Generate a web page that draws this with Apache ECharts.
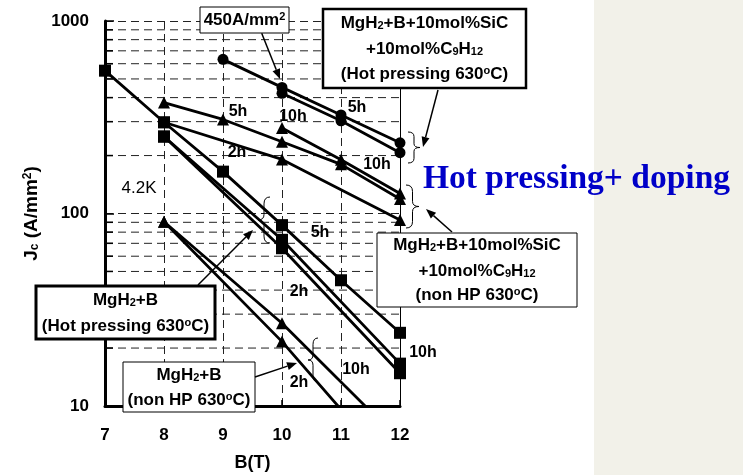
<!DOCTYPE html>
<html>
<head>
<meta charset="utf-8">
<script src="https://cdn.jsdelivr.net/npm/echarts@6/dist/echarts.min.js"></script>
<style>
  html, body { margin: 0; padding: 0; background: #fff; }
  #chart { width: 743px; height: 475px; }
</style>
</head>
<body>
<div id="chart"></div>
<script>
var chartDom = document.getElementById('chart');
var myChart = echarts.init(chartDom);

// B (T) ticks and minor Jc grid values
var bTicks = [7, 8, 9, 10, 11, 12];
var jcMinor = [20, 30, 40, 50, 60, 70, 80, 90, 200, 300, 400, 500, 600, 700, 800, 900];

// MgH2+B+10mol%SiC+10mol%C9H12, hot pressing 630C (circles)
var hpDoped5h = [[9, 632], [10, 452], [11, 325], [12, 233]];
var hpDoped10h = [[10, 421], [11, 303], [12, 207]];
// MgH2+B+10mol%SiC+10mol%C9H12, non HP 630C (triangles)
var doped5h = [[8, 377], [9, 308], [10, 236], [11, 180], [12, 119]];
var doped10h = [[10, 278], [11, 190], [12, 127]];
var doped2h = [[8, 298], [10, 191], [12, 92.5]];
// MgH2+B, hot pressing 630C (squares)
var hp5h = [[7, 552], [8, 298], [9, 165], [10, 87], [11, 45], [12, 24]];
var hp2h = [[8, 251], [10, 73], [12, 16.6]];
var hp10h = [[8, 251], [10, 66], [12, 14.8]];
// MgH2+B, non HP 630C (triangles)
var plain10h = [[8, 90.6], [10, 26.9], [12, 6.6]];
var plain2h = [[8, 90.6], [10, 21.6], [11, 9.6]];

var FONT = '"Liberation Sans", Arial, Helvetica, sans-serif';
var subStyles = {
  s: { fontSize: 12, fontWeight: 'bold', fontFamily: FONT, color: '#000', verticalAlign: 'bottom' },
  p: { fontSize: 12, fontWeight: 'bold', fontFamily: FONT, color: '#000', verticalAlign: 'top' },
  b: { fontSize: 19, fontWeight: 'bold', fontFamily: FONT, color: '#000' }
};

function mkSeries(data, symbol, size, z) {
  return {
    type: 'line',
    data: data,
    symbol: symbol,
    symbolSize: size,
    showSymbol: true,
    clip: true,
    z: z,
    color: '#000',
    lineStyle: { color: '#000', width: 2.8 },
    itemStyle: { color: '#000' },
    emphasis: { disabled: true },
    animation: false
  };
}

function box(x, y, w, h, lw) {
  return { type: 'rect', z: 100, shape: { x: x, y: y, width: w, height: h },
    style: { fill: '#fff', stroke: '#000', lineWidth: lw } };
}
function txt(x, y, text, size, weight) {
  return { type: 'text', z: 101, x: x, y: y,
    style: { text: text, fill: '#000',
      font: (weight || 'bold') + ' ' + size + 'px ' + FONT,
      align: 'center', verticalAlign: 'middle', textAlign: 'center', textVerticalAlign: 'middle',
      rich: {
        s: { fontSize: Math.round(size * 0.65), fontWeight: 'bold', fontFamily: FONT, fill: '#000', verticalAlign: 'bottom' },
        p: { fontSize: Math.round(size * 0.65), fontWeight: 'bold', fontFamily: FONT, fill: '#000', verticalAlign: 'top' }
      } } };
}
function arrow(x1, y1, x2, y2) {
  var a = Math.atan2(y2 - y1, x2 - x1), L = 10, W = 4;
  var bx = x2 - L * Math.cos(a), by = y2 - L * Math.sin(a);
  return [
    { type: 'line', z: 102, shape: { x1: x1, y1: y1, x2: bx, y2: by }, style: { stroke: '#000', lineWidth: 1.5 } },
    { type: 'polygon', z: 102, shape: { points: [[x2, y2],
      [bx + W * Math.sin(a), by - W * Math.cos(a)], [bx - W * Math.sin(a), by + W * Math.cos(a)]] },
      style: { fill: '#000' } }
  ];
}
function curve(x1, y1, cx, cy, x2, y2) {
  return { type: 'bezierCurve', z: 102, shape: { x1: x1, y1: y1, x2: x2, y2: y2, cpx1: cx, cpy1: cy },
    style: { stroke: '#000', fill: null, lineWidth: 1 } };
}
function seg(x1, y1, x2, y2) {
  return { type: 'line', z: 102, shape: { x1: x1, y1: y1, x2: x2, y2: y2 }, style: { stroke: '#000', lineWidth: 1 } };
}
function brace(x, y, h, w) {
  // w > 0: tip points right, w < 0: tip points left
  var m = x + w / 2, t = x + w, c = y + h / 2;
  return [
    curve(x, y, m, y, m, y + h * 0.15),
    seg(m, y + h * 0.15, m, y + h * 0.38),
    curve(m, y + h * 0.38, m, c, t, c),
    curve(t, c, m, c, m, y + h * 0.62),
    seg(m, y + h * 0.62, m, y + h * 0.85),
    curve(m, y + h * 0.85, m, y + h, x, y + h)
  ];
}

var graphics = [
  { type: 'rect', z: -10, shape: { x: 594, y: 0, width: 149, height: 475 }, style: { fill: '#f2f1e9' } },
  box(200, 7, 89, 26, 1),
  txt(244.5, 20, '450A/mm{p|2}', 17),
  box(323, 9, 203, 79, 2.5),
  txt(424.5, 23, 'MgH{s|2}+B+10mol%SiC', 17),
  txt(424.5, 49, '+10mol%C{s|9}H{s|12}', 17),
  txt(424.5, 74, '(Hot pressing 630{p|o}C)', 17),
  box(377, 233, 200, 74, 1),
  txt(477, 245, 'MgH{s|2}+B+10mol%SiC', 17),
  txt(477, 271, '+10mol%C{s|9}H{s|12}', 17),
  txt(477, 295, '(non HP 630{p|o}C)', 17),
  box(36, 286, 179, 53, 3),
  txt(125.5, 300, 'MgH{s|2}+B', 17),
  txt(125.5, 326, '(Hot pressing 630{p|o}C)', 17),
  box(123, 362, 132, 50, 1),
  txt(189, 375, 'MgH{s|2}+B', 17),
  txt(189, 400, '(non HP 630{p|o}C)', 17),
  txt(139, 188, '4.2K', 17, 'normal'),
  txt(238, 112, '5h', 16), txt(237, 153, '2h', 16),
  txt(293, 117, '10h', 16), txt(357, 108, '5h', 16),
  txt(377, 165, '10h', 16), txt(320, 233, '5h', 16),
  txt(299, 292, '2h', 16), txt(356, 370, '10h', 16),
  txt(299, 383, '2h', 16), txt(423, 353, '10h', 16),
  { type: 'text', z: 101, x: 423, y: 179,
    style: { text: 'Hot pressing+ doping', fill: '#0000c8',
      font: 'bold 33.5px "Liberation Serif", "Times New Roman", serif',
      align: 'left', verticalAlign: 'middle', textAlign: 'left', textVerticalAlign: 'middle' } }
].concat(
  brace(408, 132, 31, 12),
  brace(406, 185, 43, 13),
  brace(270, 197, 46, -12),
  brace(318, 338, 44, -10),
  arrow(261.7, 33.3, 280, 79),
  arrow(438, 90, 423, 147),
  arrow(452, 232, 426, 209),
  arrow(198, 285, 253, 230),
  arrow(255, 377, 297, 363)
);

var option = {
  animation: false,
  backgroundColor: '#fff',
  grid: { left: 105, right: 343, top: 21, bottom: 69, containLabel: false, outerBoundsMode: 'none' },
  xAxis: {
    type: 'value',
    min: bTicks[0],
    max: bTicks[bTicks.length - 1],
    interval: 1,
    name: 'B(T)',
    nameLocation: 'middle',
    nameGap: 48,
    nameTextStyle: { color: '#000', fontSize: 18, fontWeight: 'bold', fontFamily: FONT },
    axisLine: { onZero: false, lineStyle: { color: '#000', width: 3 } },
    axisTick: { inside: true, length: 6, lineStyle: { color: '#000', width: 1.5 } },
    axisLabel: { color: '#000', fontSize: 17, fontWeight: 'bold', fontFamily: FONT, margin: 21 },
    splitLine: { show: true, lineStyle: { color: '#222', width: 1, type: [8, 5] } }
  },
  yAxis: {
    type: 'log',
    logBase: 10,
    min: 10,
    max: 1000,
    name: '{b|J}{s|c}{b| (A/mm}{p|2}{b|)}',
    nameLocation: 'middle',
    nameGap: 64,
    nameRotate: 90,
    nameTextStyle: { color: '#000', fontSize: 19, fontWeight: 'bold', fontFamily: FONT, rich: subStyles },
    axisLine: { onZero: false, lineStyle: { color: '#000', width: 3 } },
    axisTick: { inside: true, length: 9, lineStyle: { color: '#000', width: 1.5 } },
    axisLabel: { color: '#000', fontSize: 17, fontWeight: 'bold', fontFamily: FONT, margin: 16,
      formatter: function (v) { return String(Math.round(v)); } },
    splitLine: { show: true, lineStyle: { color: '#222', width: 1, type: [8, 5] } }
  },
  graphic: graphics,
  series: [
    {
      type: 'custom',
      coordinateSystem: 'cartesian2d',
      data: jcMinor.map(function (v) { return [bTicks[0], v]; }),
      encode: { x: 0, y: 1 },
      z: 1,
      silent: true,
      renderItem: function (params, api) {
        var v = api.value(1);
        var a = api.coord([bTicks[0], v]);
        var b = api.coord([bTicks[bTicks.length - 1], v]);
        return { type: 'group', children: [
          { type: 'line', shape: { x1: a[0], y1: a[1], x2: b[0], y2: b[1] },
            style: { stroke: '#222', lineWidth: 1, lineDash: [8, 5] } },
          { type: 'line', shape: { x1: a[0], y1: a[1], x2: a[0] + 8, y2: a[1] },
            style: { stroke: '#000', lineWidth: 1.5 } }
        ] };
      }
    },
    {
      type: 'line', data: [], silent: true,
      markLine: { symbol: 'none', silent: true, label: { show: false },
        lineStyle: { color: '#000', width: 1, type: 'solid' },
        data: [{ xAxis: bTicks[bTicks.length - 1] }] }
    },
    mkSeries(plain10h, 'triangle', 12, 3),
    mkSeries(plain2h, 'triangle', 12, 3),
    mkSeries(doped2h, 'triangle', 12, 3),
    mkSeries(doped5h, 'triangle', 12, 3),
    mkSeries(doped10h, 'triangle', 12, 3),
    mkSeries(hpDoped5h, 'circle', 11, 4),
    mkSeries(hpDoped10h, 'circle', 11, 4),
    mkSeries(hp2h, 'rect', 12, 5),
    mkSeries(hp10h, 'rect', 12, 5),
    mkSeries(hp5h, 'rect', 12, 5)
  ]
};

option && myChart.setOption(option);
</script>
</body>
</html>
